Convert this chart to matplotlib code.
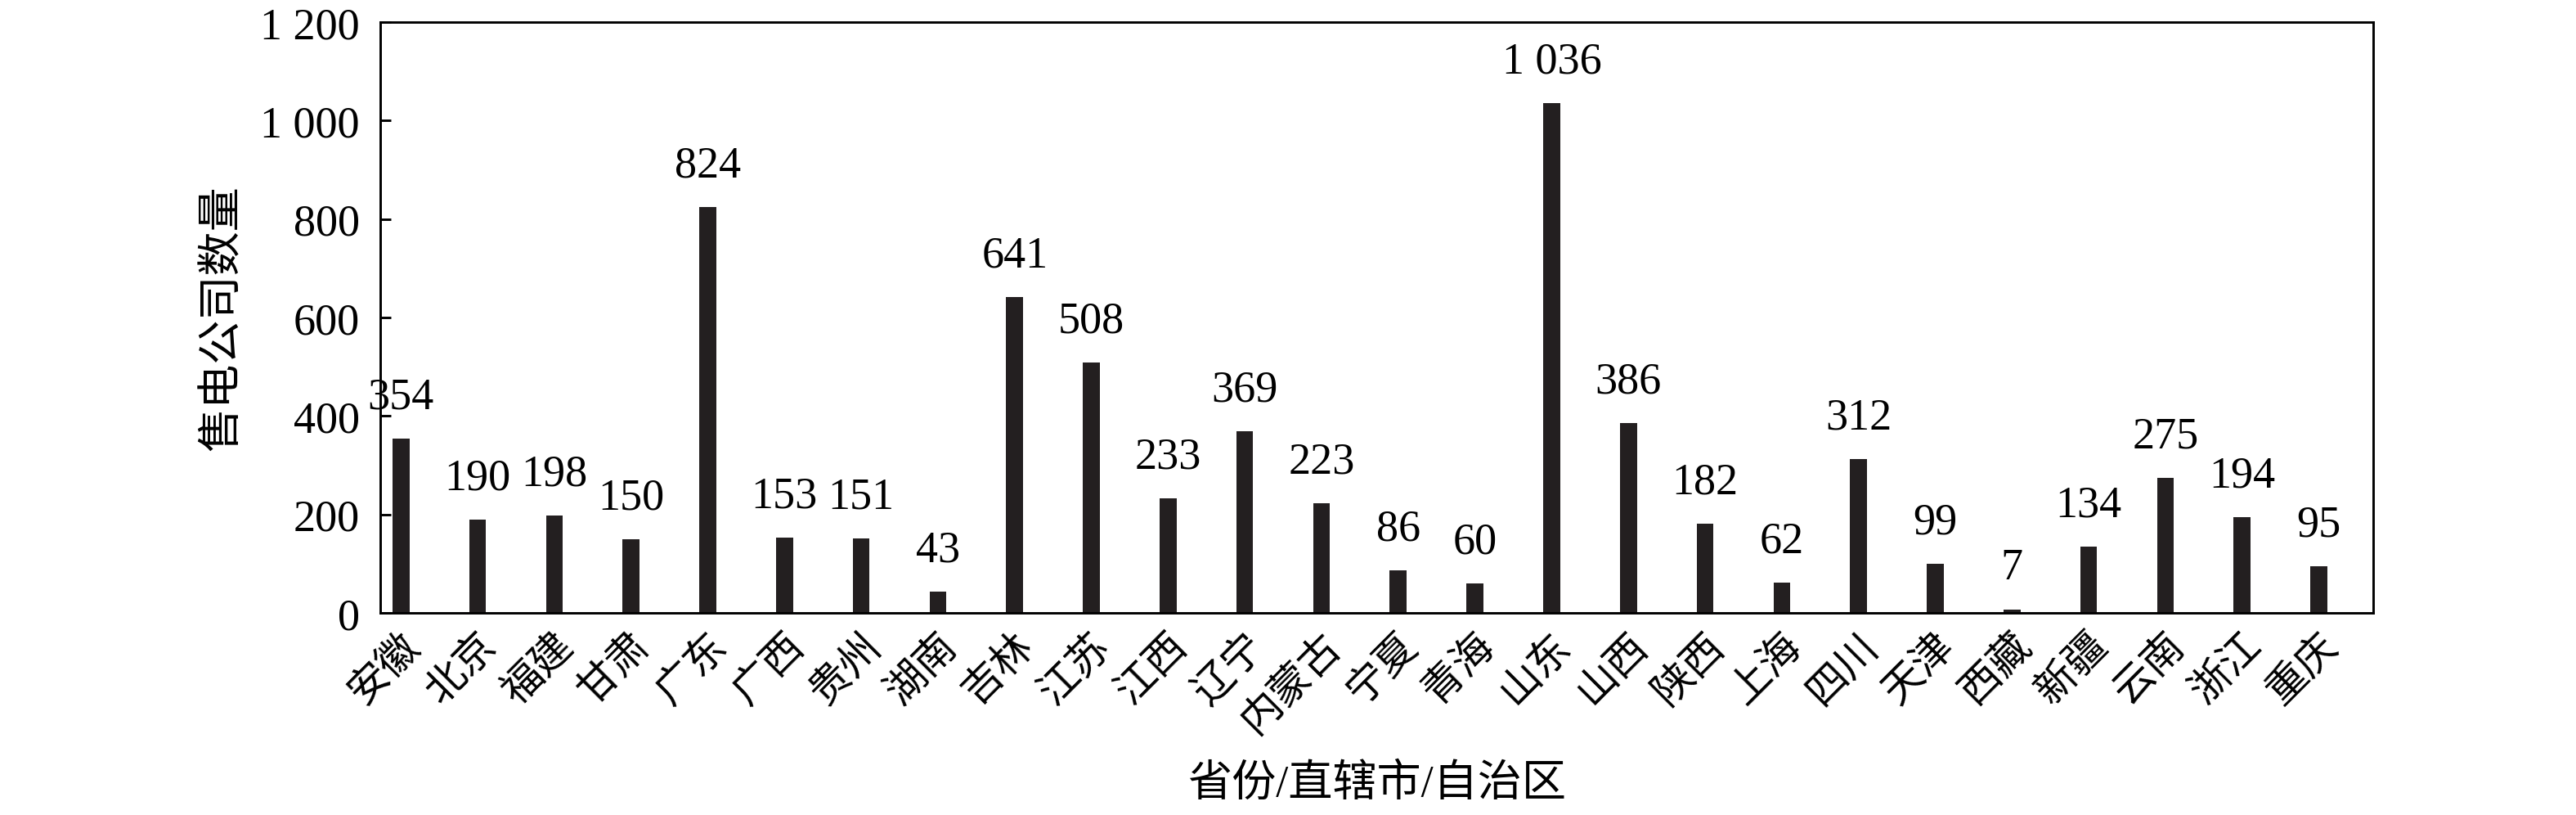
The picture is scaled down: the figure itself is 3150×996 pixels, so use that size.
import numpy as np
import matplotlib.pyplot as plt

plt.rcParams['font.family'] = ['Liberation Serif', 'Noto Sans CJK SC']

provinces = ['安徽', '北京', '福建', '甘肃', '广东', '广西', '贵州', '湖南', '吉林',
             '江苏', '江西', '辽宁', '内蒙古', '宁夏', '青海', '山东', '山西', '陕西',
             '上海', '四川', '天津', '西藏', '新疆', '云南', '浙江', '重庆']
counts = [354, 190, 198, 150, 824, 153, 151, 43, 641, 508, 233, 369, 223, 86,
          60, 1036, 386, 182, 62, 312, 99, 7, 134, 275, 194, 95]
y_ticks = [0, 200, 400, 600, 800, 1000, 1200]


def fmt(v):
    # thousands separated by a space, as in the source figure
    return '{:,}'.format(v).replace(',', ' ')


fig = plt.figure(figsize=(10.5, 3.3233), dpi=300)
ax = fig.add_axes([0.1476, 0.2477, 0.7737, 0.7242])

x = np.arange(len(provinces))
ax.bar(x, counts, width=0.22, color='#231f20')

for xi, v in zip(x, counts):
    ax.annotate(fmt(v), (xi, v), xytext=(0, 9), textcoords='offset points',
                ha='center', va='baseline', fontsize=13)

ax.set_xlim(-0.27, 25.71)
ax.set_ylim(0, 1200)
ax.set_yticks(y_ticks)
ax.set_yticklabels([fmt(t) for t in y_ticks], fontsize=13)
ax.set_xticks(x)
ax.set_xticklabels(provinces, fontsize=12, rotation=45, ha='right',
                   rotation_mode='anchor')

ax.tick_params(axis='y', direction='in', length=3.2, width=0.7, pad=6)
ax.tick_params(axis='x', length=0, pad=4)
for s in ax.spines.values():
    s.set_linewidth(0.7)

ax.set_ylabel('售电公司数量', fontsize=13)
ax.yaxis.set_label_coords(-0.068, 0.5)
ax.set_xlabel('省份/直辖市/自治区', fontsize=13)
ax.xaxis.set_label_coords(0.5, -0.255)

fig.savefig('out.png', dpi=300)
